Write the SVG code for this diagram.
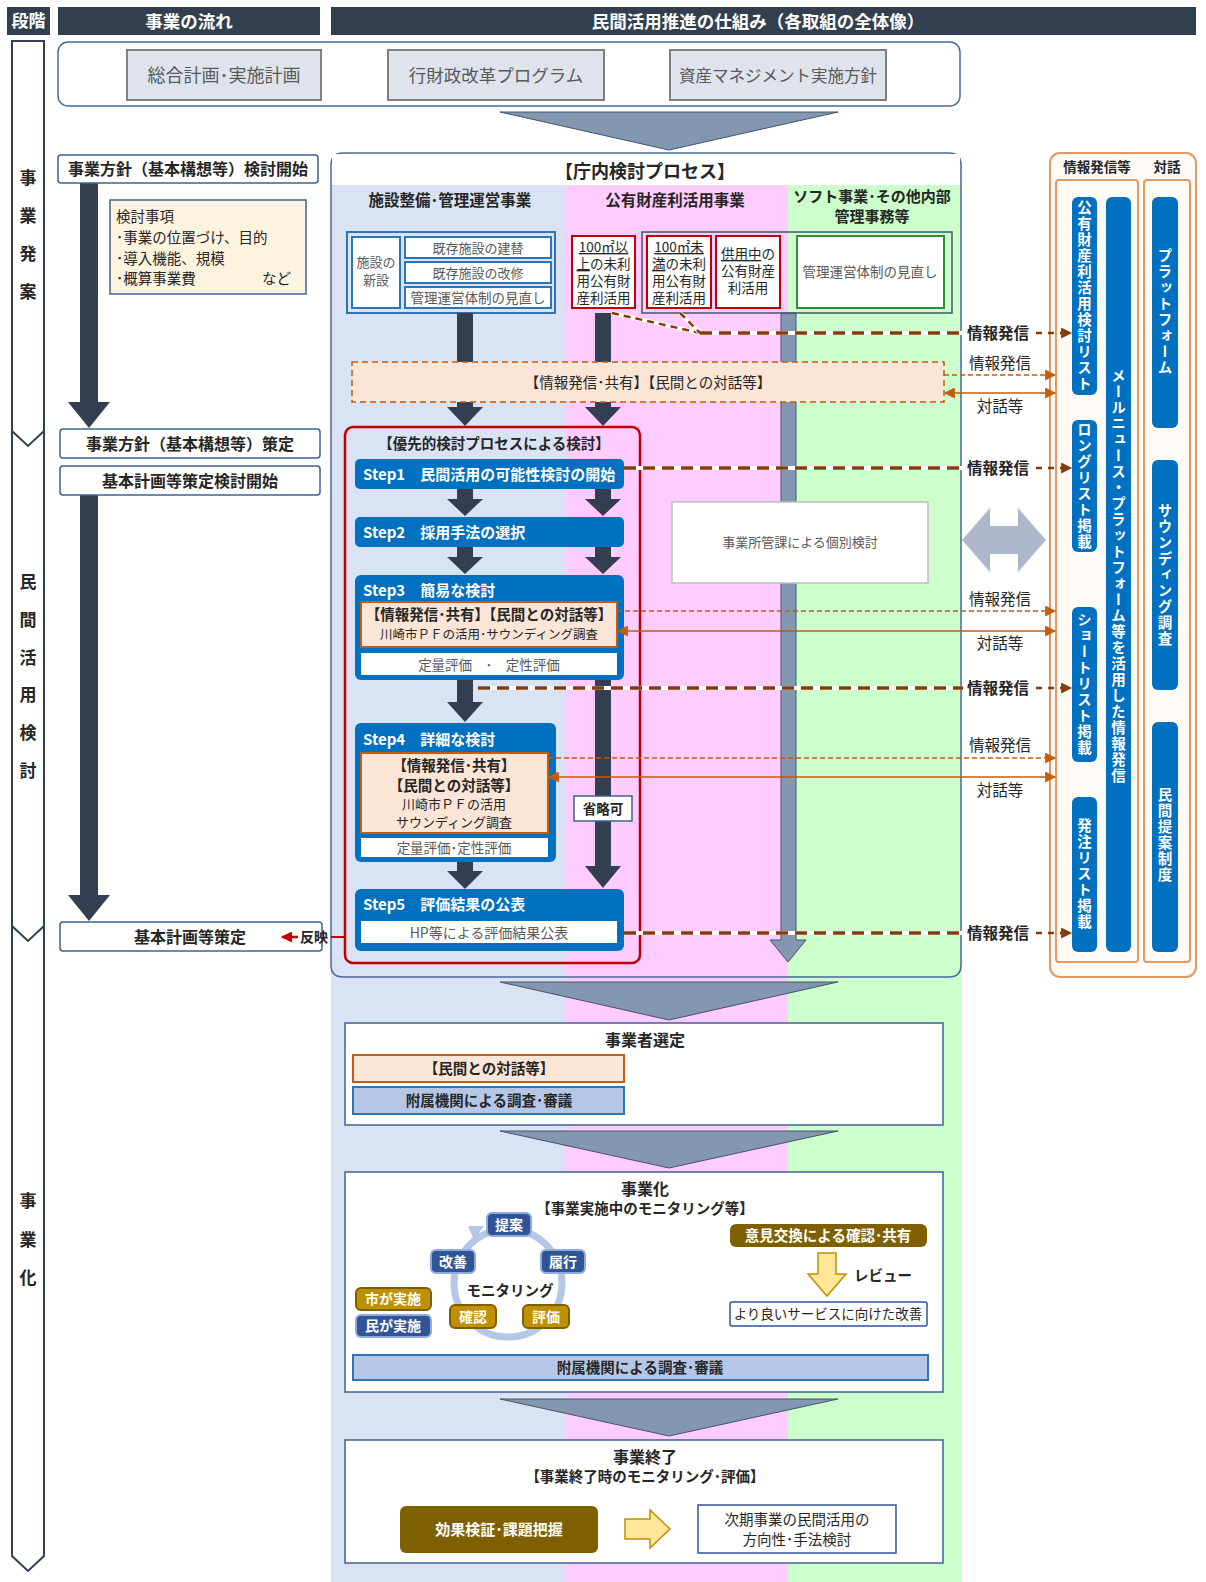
<svg xmlns="http://www.w3.org/2000/svg" width="1206" height="1582" viewBox="0 0 1206 1582">
<style>
text{font-family:'Noto Sans CJK JP','Noto Sans CJK SC',sans-serif;fill:#262626}
.b{font-weight:700}
.c{text-anchor:middle}
.w{fill:#fff}
.g{fill:#595959}
.hd{fill:#323f4f}
.nb{fill:#fff;stroke:#41618f;stroke-width:1.5}
.arr{fill:#333f50}
.step{fill:#0070c0}
.org{fill:#fbe5d6;stroke:#c55a11;stroke-width:2}
.wb{fill:#fff}
.red{fill:#fff;stroke:#c00000;stroke-width:2}
.bar{fill:#0070c0}
.vt{writing-mode:vertical-rl;font-weight:700;fill:#fff;font-size:14.5px;letter-spacing:1.5px;text-anchor:middle}
.trap{fill:#8497b0;stroke:#44546a;stroke-width:1}
.thk0{stroke:#fff;stroke-width:4;fill:none}
.thk{stroke:#843c0c;stroke-width:3.5;stroke-dasharray:12 7;fill:none}
.thn{stroke:#c55a11;stroke-width:1.5;stroke-dasharray:5 3;fill:none}
.sol{stroke:#c55a11;stroke-width:1.5;fill:none}
.nv{fill:#2f5597;stroke:#8faadc;stroke-width:2}
.gd{fill:#bf9000;stroke:#7f6000;stroke-width:2}
</style>
<defs>
<marker id="mb" viewBox="0 0 10 10" refX="9" refY="5" markerWidth="13" markerHeight="11" markerUnits="userSpaceOnUse" orient="auto-start-reverse"><path d="M0,0 L10,5 L0,10 z" fill="#843c0c"/></marker>
<marker id="mo" viewBox="0 0 10 10" refX="9" refY="5" markerWidth="12" markerHeight="11" markerUnits="userSpaceOnUse" orient="auto-start-reverse"><path d="M0,0 L10,5 L0,10 z" fill="#c55a11"/></marker>
<marker id="mr" viewBox="0 0 10 10" refX="9" refY="5" markerWidth="12" markerHeight="11" markerUnits="userSpaceOnUse" orient="auto-start-reverse"><path d="M0,0 L10,5 L0,10 z" fill="#c00000"/></marker>
</defs>
<rect width="1206" height="1582" fill="#fff"/>

<!-- lane backgrounds -->
<g id="lanes">
<rect x="331" y="185" width="234" height="1397" fill="#dae3f3"/>
<rect x="565" y="185" width="223" height="1397" fill="#ffccff"/>
<rect x="788" y="185" width="174" height="1397" fill="#ccffcc"/>
</g>

<!-- headers -->
<g id="header">
<rect x="7" y="7" width="43" height="28" class="hd"/>
<text x="28.5" y="27" class="b c w" font-size="17">段階</text>
<rect x="58" y="7" width="262" height="28" class="hd"/>
<text x="189" y="27.5" class="b c w" font-size="17.5">事業の流れ</text>
<rect x="331" y="7" width="865" height="28" class="hd"/>
<text x="758" y="27.5" class="b c w" font-size="17.5">民間活用推進の仕組み（各取組の全体像）</text>
</g>

<!-- stage column -->
<g id="stage">
<path d="M12,41 H44 V1556 L28,1571 L12,1556 Z" fill="#fff" stroke="#323f4f" stroke-width="2"/>
<polyline points="12,431 28,446 44,431" fill="none" stroke="#323f4f" stroke-width="2"/>
<polyline points="12,926 28,941 44,926" fill="none" stroke="#323f4f" stroke-width="2"/>
<g class="b" font-size="17">
<text x="28" y="184" class="c b">事</text><text x="28" y="222" class="c b">業</text><text x="28" y="260" class="c b">発</text><text x="28" y="298" class="c b">案</text>
<text x="28" y="588" class="c b">民</text><text x="28" y="626" class="c b">間</text><text x="28" y="664" class="c b">活</text><text x="28" y="701" class="c b">用</text><text x="28" y="739" class="c b">検</text><text x="28" y="777" class="c b">討</text>
<text x="28" y="1207" class="c b">事</text><text x="28" y="1246" class="c b">業</text><text x="28" y="1284" class="c b">化</text>
</g>
</g>

<!-- top plans -->
<g id="plans">
<rect x="58" y="42" width="902" height="64" rx="10" fill="#fff" stroke="#4a6a9a" stroke-width="1.5"/>
<rect x="127" y="50" width="194" height="50" fill="#dee3ec" stroke="#7f7f7f" stroke-width="2"/>
<text x="224" y="82" class="c g" font-size="18">総合計画･実施計画</text>
<rect x="388" y="50" width="216" height="50" fill="#dee3ec" stroke="#7f7f7f" stroke-width="2"/>
<text x="496" y="82" class="c g" font-size="17.5">行財政改革プログラム</text>
<rect x="670" y="50" width="216" height="50" fill="#dee3ec" stroke="#7f7f7f" stroke-width="2"/>
<text x="778" y="82" class="c g" font-size="16.5">資産マネジメント実施方針</text>
</g>

<g id="trapezoids">
<polygon points="500,112 838,112 669,150" class="trap"/>
<polygon points="500,982 838,982 669,1020" class="trap"/>
<polygon points="500,1131 838,1131 669,1168" class="trap"/>
<polygon points="500,1399 838,1399 669,1436" class="trap"/>
</g>

<!-- left flow -->
<g id="flow-left">
<polygon points="80,183 98,183 98,402 110,402 89,428 68,402 80,402" class="arr"/>
<polygon points="80,495 98,495 98,895 110,895 89,921 68,895 80,895" class="arr"/>
<rect x="58" y="155" width="260" height="28" rx="3" class="nb"/>
<text x="188" y="175" class="c b" font-size="16">事業方針（基本構想等）検討開始</text>
<rect x="110" y="200" width="196" height="94" fill="#fdf3df" stroke="#41618f" stroke-width="1.5"/>
<g class="g" font-size="14.5">
<text x="116" y="222">検討事項</text>
<text x="116" y="243">･事業の位置づけ、目的</text>
<text x="116" y="264">･導入機能、規模</text>
<text x="116" y="284">･概算事業費</text>
<text x="262" y="284">など</text>
</g>
<rect x="60" y="429" width="260" height="29" rx="3" class="nb"/>
<text x="190" y="449.5" class="c b" font-size="16">事業方針（基本構想等）策定</text>
<rect x="60" y="466" width="260" height="29" rx="3" class="nb"/>
<text x="190" y="486.5" class="c b" font-size="16">基本計画等策定検討開始</text>
<rect x="60" y="922" width="262" height="29" rx="3" class="nb"/>
<text x="190" y="942.5" class="c b" font-size="16">基本計画等策定</text>
</g>

<!-- main process -->
<g id="process-box">
<path d="M343,153 H949 Q961,153 961,165 V965 Q961,977 949,977 H343 Q331,977 331,965 V165 Q331,153 343,153 Z" fill="none" stroke="#4a6a9a" stroke-width="1.5"/>
<rect x="332" y="154" width="628" height="31" fill="#fff"/>
<text x="645" y="178" class="c b" font-size="18">【庁内検討プロセス】</text>
<text x="450" y="206" class="c b" font-size="15.5">施設整備･管理運営事業</text>
<text x="675" y="206" class="c b" font-size="15.5">公有財産利活用事業</text>
<text x="872" y="202" class="c b" font-size="15">ソフト事業･その他内部</text>
<text x="872" y="222" class="c b" font-size="15">管理事務等</text>
</g>

<g id="facility-group">
<rect x="347" y="232" width="208" height="81" fill="#dae3f3" stroke="#2e75b6" stroke-width="2"/>
<rect x="352" y="237" width="48" height="71" fill="#fff" stroke="#2e75b6" stroke-width="2"/>
<text x="376" y="267" class="c g" font-size="13">施設の</text>
<text x="376" y="285" class="c g" font-size="13">新設</text>
<rect x="405" y="237" width="146" height="21" fill="#fff" stroke="#2e75b6" stroke-width="2"/>
<text x="478" y="252.5" class="c g" font-size="13">既存施設の建替</text>
<rect x="405" y="262" width="146" height="21" fill="#fff" stroke="#2e75b6" stroke-width="2"/>
<text x="478" y="277.5" class="c g" font-size="13">既存施設の改修</text>
<rect x="405" y="287" width="146" height="21" fill="#fff" stroke="#2e75b6" stroke-width="2"/>
<text x="478" y="302.5" class="c g" font-size="13.5">管理運営体制の見直し</text>
</g>

<!-- main vertical arrows -->
<g id="vertical-arrows">
<polygon points="457,313 473,313 473,407 483,407 465,426 447,407 457,407" class="arr"/>
<polygon points="595,313 611,313 611,407 621,407 603,426 585,407 595,407" class="arr"/>
<polygon points="781,313 796,313 796,940 806,940 788,962 770,940 781,940" fill="#8497b0" stroke="#44546a" stroke-width="1"/>
<polygon points="457,489 473,489 473,499 483,499 465,516 447,499 457,499" class="arr"/>
<polygon points="595,489 611,489 611,499 621,499 603,516 585,499 595,499" class="arr"/>
<polygon points="457,547 473,547 473,557 483,557 465,574 447,557 457,557" class="arr"/>
<polygon points="595,547 611,547 611,557 621,557 603,574 585,557 595,557" class="arr"/>
<polygon points="457,680 473,680 473,702 483,702 465,722 447,702 457,702" class="arr"/>
<polygon points="595,680 611,680 611,866 621,866 603,888 585,866 595,866" class="arr"/>
<polygon points="457,862 473,862 473,871 483,871 465,889 447,871 457,871" class="arr"/>
</g>

<g id="property-boxes">
<rect x="642" y="232" width="310" height="81" fill="none" stroke="#44546a" stroke-width="1.5"/>
<rect x="572" y="236" width="63" height="72" class="red"/>
<g class="g" font-size="13.5">
<text x="603.5" y="252" class="c" text-decoration="underline">100㎡以</text>
<text x="603.5" y="269" class="c"><tspan text-decoration="underline">上</tspan>の未利</text>
<text x="603.5" y="286" class="c">用公有財</text>
<text x="603.5" y="303" class="c">産利活用</text>
</g>
<rect x="647" y="236" width="64" height="72" class="red"/>
<g class="g" font-size="13.5">
<text x="679" y="252" class="c" text-decoration="underline">100㎡未</text>
<text x="679" y="269" class="c"><tspan text-decoration="underline">満</tspan>の未利</text>
<text x="679" y="286" class="c">用公有財</text>
<text x="679" y="303" class="c">産利活用</text>
</g>
<rect x="716" y="236" width="64" height="72" class="red"/>
<g class="g" font-size="13.5">
<text x="748" y="259" class="c"><tspan text-decoration="underline">供用中</tspan>の</text>
<text x="748" y="276" class="c">公有財産</text>
<text x="748" y="293" class="c">利活用</text>
</g>
<rect x="797" y="236" width="147" height="72" fill="#fff" stroke="#2f8f3a" stroke-width="2"/>
<text x="870" y="277" class="c g" font-size="13.5">管理運営体制の見直し</text>
</g>

<g id="info-share">
<rect x="352" y="362" width="592" height="40" fill="#fbe5d6" stroke="#c55a11" stroke-width="1.5" stroke-dasharray="6 4"/>
<text x="648" y="388" class="c" font-size="14.5" fill="#404040">【情報発信･共有】【民間との対話等】</text>
</g>

<g id="individual">
<rect x="672" y="502" width="256" height="81" fill="#fff" stroke="#bfbfbf" stroke-width="1.5"/>
<text x="800" y="547" class="c g" font-size="13">事業所管課による個別検討</text>
</g>

<g id="priority">
<rect x="345" y="427" width="295" height="536" rx="8" fill="none" stroke="#c00000" stroke-width="2.5"/>
<text x="494" y="449" class="c b" font-size="14.5">【優先的検討プロセスによる検討】</text>
</g>

<g id="step1">
<rect x="355" y="459" width="269" height="30" rx="5" class="step"/>
<text x="363" y="479.5" class="b w" font-size="15">Step1　民間活用の可能性検討の開始</text>
</g>
<g id="step2">
<rect x="355" y="517" width="269" height="30" rx="5" class="step"/>
<text x="363" y="537.5" class="b w" font-size="15">Step2　採用手法の選択</text>
</g>
<g id="step3">
<rect x="355" y="575" width="269" height="105" rx="6" class="step"/>
<text x="363" y="596" class="b w" font-size="15">Step3　簡易な検討</text>
<rect x="361" y="602" width="256" height="45" class="org"/>
<text x="489" y="620" class="c b" font-size="14.5" fill="#404040">【情報発信･共有】【民間との対話等】</text>
<text x="489" y="639" class="c" font-size="12.5" fill="#7f7f7f">川崎市ＰＦの活用･サウンディング調査</text>
<rect x="361" y="653" width="256" height="22" class="wb"/>
<text x="489" y="669.5" class="c g" font-size="13.5">定量評価　･　定性評価</text>
</g>
<g id="step4">
<rect x="355" y="723" width="201" height="139" rx="6" class="step"/>
<text x="363" y="745" class="b w" font-size="15">Step4　詳細な検討</text>
<rect x="361" y="753" width="187" height="80" class="org"/>
<text x="454" y="771" class="c b" font-size="14.5" fill="#404040">【情報発信･共有】</text>
<text x="454" y="791" class="c b" font-size="14.5" fill="#404040">【民間との対話等】</text>
<text x="454" y="809" class="c" font-size="13" fill="#7f7f7f">川崎市ＰＦの活用</text>
<text x="454" y="827" class="c" font-size="13" fill="#7f7f7f">サウンディング調査</text>
<rect x="361" y="838" width="187" height="19" class="wb"/>
<text x="454" y="853" class="c g" font-size="13.5">定量評価･定性評価</text>
</g>
<g id="step5">
<rect x="355" y="889" width="269" height="62" rx="6" class="step"/>
<text x="363" y="910" class="b w" font-size="15">Step5　評価結果の公表</text>
<rect x="361" y="921" width="256" height="22" class="wb"/>
<text x="489" y="937.5" class="c g" font-size="14">HP等による評価結果公表</text>
</g>
<g id="skip">
<rect x="574" y="796" width="58" height="25" fill="#fff" stroke="#41618f" stroke-width="1.5"/>
<text x="603" y="814" class="c b" font-size="13.5">省略可</text>
</g>

<!-- right panel -->
<g id="panel">
<rect x="1050" y="153" width="146" height="824" rx="10" fill="#fffaf6" stroke="#e29a64" stroke-width="2"/>
<text x="1097" y="172" class="c b" font-size="13.5">情報発信等</text>
<text x="1167" y="172" class="c b" font-size="13.5">対話</text>
<rect x="1056" y="180" width="82" height="782" rx="3" fill="none" stroke="#e29a64" stroke-width="2"/>
<rect x="1144" y="180" width="46" height="782" rx="3" fill="none" stroke="#e29a64" stroke-width="2"/>
</g>
<g id="bar-list"><rect x="1072" y="197" width="25" height="198" rx="6" class="bar"/><text x="1084.5" y="296" class="vt">公有財産利活用検討リスト</text></g>
<g id="bar-long"><rect x="1072" y="420" width="25" height="132" rx="6" class="bar"/><text x="1084.5" y="486" class="vt">ロングリスト掲載</text></g>
<g id="bar-short"><rect x="1072" y="607" width="25" height="155" rx="6" class="bar"/><text x="1084.5" y="684" class="vt">ショートリスト掲載</text></g>
<g id="bar-order"><rect x="1072" y="797" width="25" height="155" rx="6" class="bar"/><text x="1084.5" y="874" class="vt">発注リスト掲載</text></g>
<g id="bar-mail"><rect x="1106" y="197" width="25" height="755" rx="6" class="bar"/><text x="1118.5" y="576" class="vt">メールニュース・プラットフォーム等を活用した情報発信</text></g>
<g id="bar-pf"><rect x="1152" y="197" width="26" height="231" rx="6" class="bar"/><text x="1165" y="312" class="vt">プラットフォーム</text></g>
<g id="bar-sounding"><rect x="1152" y="460" width="26" height="230" rx="6" class="bar"/><text x="1165" y="575" class="vt">サウンディング調査</text></g>
<g id="bar-proposal"><rect x="1152" y="722" width="26" height="230" rx="6" class="bar"/><text x="1165" y="835" class="vt">民間提案制度</text></g>

<g id="dialogue-arrow">
<polygon points="962,540 990,508 990,526 1018,526 1018,508 1046,540 1018,572 1018,554 990,554 990,572" fill="#adb9ca"/>
</g>

<!-- connectors -->
<g id="connectors">
<polyline points="612,313 700,333" class="thk0"/><polyline points="612,313 700,333" class="thk" style="stroke-width:2.5;stroke-dasharray:7 5"/>
<polyline points="680,313 700,333" class="thk0"/><polyline points="680,313 700,333" class="thk" style="stroke-width:2.5;stroke-dasharray:7 5"/>
<line x1="700" y1="333" x2="963" y2="333" class="thk0"/><line x1="700" y1="333" x2="963" y2="333" class="thk"/>
<line x1="624" y1="468" x2="963" y2="468" class="thk0"/><line x1="624" y1="468" x2="963" y2="468" class="thk"/>
<line x1="478" y1="688" x2="963" y2="688" class="thk0"/><line x1="478" y1="688" x2="963" y2="688" class="thk"/>
<line x1="624" y1="933" x2="963" y2="933" class="thk0"/><line x1="624" y1="933" x2="963" y2="933" class="thk"/>
<line x1="1036" y1="333" x2="1071" y2="333" class="thk" marker-end="url(#mb)" style="stroke-width:2.5;stroke-dasharray:6 6"/>
<line x1="1036" y1="468" x2="1071" y2="468" class="thk" marker-end="url(#mb)" style="stroke-width:2.5;stroke-dasharray:6 6"/>
<line x1="1036" y1="688" x2="1071" y2="688" class="thk" marker-end="url(#mb)" style="stroke-width:2.5;stroke-dasharray:6 6"/>
<line x1="1036" y1="933" x2="1071" y2="933" class="thk" marker-end="url(#mb)" style="stroke-width:2.5;stroke-dasharray:6 6"/>
<g class="b" font-size="15.5">
<text x="967" y="338.5">情報発信</text>
<text x="967" y="473.5">情報発信</text>
<text x="967" y="693.5">情報発信</text>
<text x="967" y="938.5">情報発信</text>
</g>
<line x1="944" y1="375" x2="1055" y2="375" class="thn" marker-end="url(#mo)"/>
<line x1="945" y1="393" x2="1055" y2="393" class="sol" marker-start="url(#mo)" marker-end="url(#mo)"/>
<line x1="617" y1="611" x2="1055" y2="611" class="thn" marker-end="url(#mo)"/>
<line x1="618" y1="631" x2="1055" y2="631" class="sol" marker-start="url(#mo)" marker-end="url(#mo)"/>
<line x1="548" y1="758" x2="1055" y2="758" class="thn" marker-end="url(#mo)"/>
<line x1="549" y1="777" x2="1055" y2="777" class="sol" marker-start="url(#mo)" marker-end="url(#mo)"/>
<g class="g" font-size="15.5">
<text x="1000" y="369" class="c">情報発信</text>
<text x="1000" y="412" class="c">対話等</text>
<text x="1000" y="605" class="c">情報発信</text>
<text x="1000" y="649" class="c">対話等</text>
<text x="1000" y="751" class="c">情報発信</text>
<text x="1000" y="796" class="c">対話等</text>
</g>
<line x1="345" y1="937" x2="331" y2="937" stroke="#c00000" stroke-width="2"/>
<line x1="298" y1="937" x2="282" y2="937" stroke="#c00000" stroke-width="2.5" marker-end="url(#mr)"/>
<text x="314" y="942" class="c b" font-size="14">反映</text>
</g>

<!-- selection -->
<g id="selection">
<rect x="345" y="1023" width="598" height="102" class="nb"/>
<text x="645" y="1046" class="c b" font-size="16">事業者選定</text>
<rect x="353" y="1055" width="271" height="27" class="org"/>
<text x="489" y="1074" class="c b" font-size="14.5" fill="#404040">【民間との対話等】</text>
<rect x="353" y="1087" width="271" height="27" fill="#b4c7e7" stroke="#2e75b6" stroke-width="2"/>
<text x="489" y="1106" class="c b" font-size="14.5" fill="#404040">附属機関による調査･審議</text>
</g>

<!-- implementation -->
<g id="implementation">
<rect x="345" y="1172" width="598" height="220" class="nb"/>
<text x="645" y="1195" class="c b" font-size="16">事業化</text>
<text x="645" y="1214" class="c b" font-size="14.5">【事業実施中のモニタリング等】</text>
<circle cx="508" cy="1283" r="54" fill="none" stroke="#b4c7e7" stroke-width="7"/>
<polygon points="468,1226 484,1226 474,1240" fill="#b4c7e7"/>
<text x="510" y="1296" class="c b" font-size="14.5" fill="#7f6000">モニタリング</text>
<rect x="487" y="1213" width="44" height="23" rx="5" class="nv"/><text x="509" y="1230" class="c b w" font-size="14">提案</text>
<rect x="431" y="1250" width="44" height="23" rx="5" class="nv"/><text x="453" y="1267" class="c b w" font-size="14">改善</text>
<rect x="541" y="1250" width="44" height="23" rx="5" class="nv"/><text x="563" y="1267" class="c b w" font-size="14">履行</text>
<rect x="450" y="1305" width="46" height="23" rx="5" class="gd"/><text x="473" y="1322" class="c b w" font-size="14">確認</text>
<rect x="523" y="1305" width="46" height="23" rx="5" class="gd"/><text x="546" y="1322" class="c b w" font-size="14">評価</text>
<rect x="356" y="1288" width="75" height="22" rx="5" class="gd"/><text x="393" y="1304" class="c b w" font-size="14">市が実施</text>
<rect x="356" y="1315" width="75" height="22" rx="5" class="nv"/><text x="393" y="1331" class="c b w" font-size="14">民が実施</text>
<rect x="730" y="1224" width="197" height="23" rx="6" fill="#7f6000"/>
<text x="828" y="1241" class="c b w" font-size="14.5">意見交換による確認･共有</text>
<polygon points="818,1253 836,1253 836,1274 846,1274 827,1296 808,1274 818,1274" fill="#ffe699" stroke="#bf9000" stroke-width="1.5"/>
<text x="854" y="1281" class="b" font-size="14.5" fill="#1f3864">レビュー</text>
<rect x="730" y="1302" width="197" height="24" rx="2" fill="#fff" stroke="#2f5597" stroke-width="1.5"/>
<text x="828" y="1319" class="c" font-size="13.5">より良いサービスに向けた改善</text>
<rect x="353" y="1355" width="575" height="25" fill="#b4c7e7" stroke="#2e75b6" stroke-width="2"/>
<text x="640" y="1373" class="c b" font-size="14.5" fill="#404040">附属機関による調査･審議</text>
</g>

<!-- end -->
<g id="termination">
<rect x="345" y="1440" width="598" height="123" class="nb"/>
<text x="645" y="1463" class="c b" font-size="16">事業終了</text>
<text x="645" y="1482" class="c b" font-size="14.5">【事業終了時のモニタリング･評価】</text>
<rect x="400" y="1506" width="198" height="47" rx="6" fill="#7f6000"/>
<text x="499" y="1535" class="c b w" font-size="15">効果検証･課題把握</text>
<polygon points="625,1519 650,1519 650,1510 670,1529 650,1548 650,1539 625,1539" fill="#ffe699" stroke="#bf9000" stroke-width="1.5"/>
<rect x="698" y="1505" width="198" height="48" fill="#fff" stroke="#2f5597" stroke-width="1.5"/>
<text x="797" y="1525" class="c" font-size="14.5">次期事業の民間活用の</text>
<text x="797" y="1545" class="c" font-size="14.5">方向性･手法検討</text>
</g>
</svg>
